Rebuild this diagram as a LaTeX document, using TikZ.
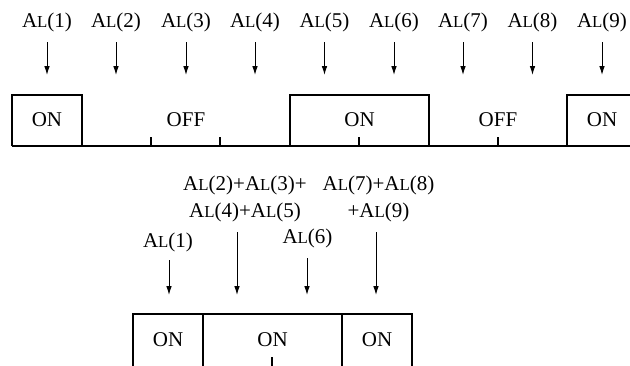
\documentclass[tikz,border=0pt]{standalone}
\usepackage{fontspec}
\setmainfont{Liberation Serif}
\usetikzlibrary{arrows.meta}
% A with a reduced capital L, as in the notation A_L(n)
\newcommand{\AL}{A{\fontsize{8.4pt}{9pt}\selectfont L}}
\tikzset{
  lbl/.style={inner sep=0pt, font=\fontsize{10.5pt}{13.5pt}\selectfont, align=center},
  state/.style={inner sep=0pt, font=\fontsize{10.5pt}{12pt}\selectfont},
  arr/.style={line width=0.5pt, -{Latex[length=4.5pt,width=2.8pt]}},
  edge/.style={line width=0.55pt},
  tick/.style={line width=0.8pt},
  base/.style={line width=0.9pt}
}
\begin{document}
\begin{tikzpicture}[x=0.5pt, y=-0.5pt]
\useasboundingbox (0,0) rectangle (630,365);
\clip (0,0) rectangle (630,365);

% ---------- upper time line: nine intervals ----------
\foreach \i/\x in {1/47,2/116,3/186,4/255,5/324.5,6/394,7/463,8/532.5,9/602}{
  \node[lbl] (t\i) at (\x,22) {\AL(\i)};
  \coordinate (ts\i) at (\x,42);
  \coordinate (te\i) at (\x,75);
  \draw[arr] (ts\i) -- (te\i);
}

% interval borders
\foreach \n/\x in {a/12,b/82,c/151,d/220,e/290,f/359,g/429,h/498,i/567,j/637}
  \coordinate (u\n) at (\x,146);

% ON boxes (open at the bottom, closed by the time line)
\draw[edge] (ua) |- ([yshift=25.5pt]ub) -- (ub);
\draw[edge] (ue) |- ([yshift=25.5pt]ug) -- (ug);
\draw[edge] (ui) |- ([yshift=25.5pt]uj) -- (uj);
% ticks on every border
\foreach \n in {a,b,c,d,e,f,g,h,i}
  \draw[tick] (u\n) -- ++(0,-9);
\draw[base] (ua) -- (uj);

\node[state] (s1) at (47,120) {ON};
\node[state] (s2) at (186,120) {OFF};
\node[state] (s3) at (359.5,120) {ON};
\node[state] (s4) at (498,120) {OFF};
\node[state] (s5) at (602,120) {ON};

% ---------- lower time line: merged intervals ----------
\node[lbl] (m1) at (168,242) {\AL(1)};
\node[lbl] (m2) at (245,198.5) {\AL(2)+\AL(3)+\\\AL(4)+\AL(5)};
\node[lbl] (m3) at (307.5,238) {\AL(6)};
\node[lbl] (m4) at (378.5,198.5) {\AL(7)+\AL(8)\\+\AL(9)};

\coordinate (ms1) at (169,260);  \coordinate (me1) at (169,295);
\coordinate (ms2) at (237,232);  \coordinate (me2) at (237,295);
\coordinate (ms3) at (307,258);  \coordinate (me3) at (307,295);
\coordinate (ms4) at (376,232);  \coordinate (me4) at (376,295);
\foreach \i in {1,2,3,4}
  \draw[arr] (ms\i) -- (me\i);

\foreach \n/\x in {a/133,b/203,c/272,d/342,e/412}
  \coordinate (l\n) at (\x,368);

\draw[edge] (la) |- ([yshift=27pt]lb) -- (lb);
\draw[edge] (lb) |- ([yshift=27pt]ld) -- (ld);
\draw[edge] (ld) |- ([yshift=27pt]le) -- (le);
\foreach \n in {a,b,c,d,e}
  \draw[tick] (l\n) -- ++(0,-11);
\draw[base] (la) -- (le);

\node[state] (n1) at (168,340) {ON};
\node[state] (n2) at (272.5,340) {ON};
\node[state] (n3) at (377,340) {ON};
\end{tikzpicture}
\end{document}
